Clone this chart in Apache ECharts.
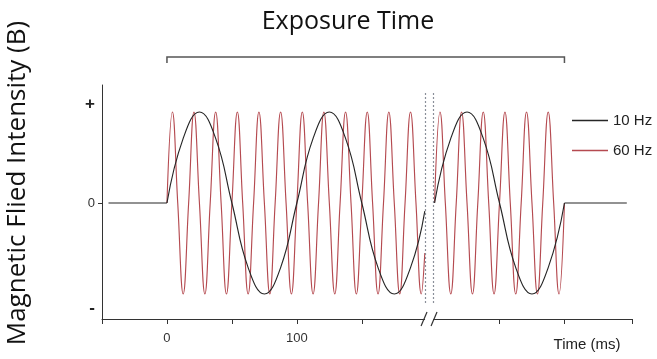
<!DOCTYPE html>
<html>
<head>
<meta charset="utf-8">
<script src="https://cdn.jsdelivr.net/npm/echarts@6/dist/echarts.min.js"></script>
<style>
html,body{margin:0;padding:0;background:#fff;}
#chart{width:657px;height:359px;}
</style>
</head>
<body>
<div id="chart"></div>
<script>
// ---- data ----
const seriesNames = ['10 Hz', '60 Hz'];

// 10 Hz: flat baseline before exposure
const hz10FlatBeforeT = [-45, 0];
const hz10FlatBeforeV = [0, 0];
// 10 Hz before the axis break
const hz10Seg1T = [0, 12.5, 25, 37.5, 50, 62.5, 75, 87.5, 100, 112.5, 125, 137.5, 150, 162.5, 175, 187.5, 198.5];
const hz10Seg1V = [0, 0.71, 1, 0.71, 0, -0.71, -1, -0.71, 0, 0.71, 1, 0.71, 0, -0.71, -1, -0.71, -0.09];
// 10 Hz after the axis break
const hz10Seg2T = [206, 218.5, 231, 243.5, 256, 268.5, 281, 293.5, 306];
const hz10Seg2V = [0, 0.71, 1, 0.71, 0, -0.71, -1, -0.71, 0];
// 10 Hz flat baseline after exposure
const hz10FlatAfterT = [306, 354];
const hz10FlatAfterV = [0, 0];

// 60 Hz before the axis break
const hz60Seg1T = [0, 4.2, 8.3, 12.5, 16.7, 20.8, 25, 29.2, 33.3, 37.5, 41.7, 45.8,
  50, 54.2, 58.3, 62.5, 66.7, 70.8, 75, 79.2, 83.3, 87.5, 91.7, 95.8,
  100, 104.2, 108.3, 112.5, 116.7, 120.8, 125, 129.2, 133.3, 137.5, 141.7, 145.8,
  150, 154.2, 158.3, 162.5, 166.7, 170.8, 175, 179.2, 183.3, 187.5, 191.7, 195.8, 198.5];
const hz60Seg1V = [0, 1, 0, -1, 0, 1, 0, -1, 0, 1, 0, -1,
  0, 1, 0, -1, 0, 1, 0, -1, 0, 1, 0, -1,
  0, 1, 0, -1, 0, 1, 0, -1, 0, 1, 0, -1,
  0, 1, 0, -1, 0, 1, 0, -1, 0, 1, 0, -1, -0.55];
// 60 Hz after the axis break
const hz60Seg2T = [206, 210.2, 214.3, 218.5, 222.7, 226.8, 231, 235.2, 239.3, 243.5, 247.7, 251.8,
  256, 260.2, 264.3, 268.5, 272.7, 276.8, 281, 285.2, 289.3, 293.5, 297.7, 301.8, 306];
const hz60Seg2V = [0, 1, 0, -1, 0, 1, 0, -1, 0, 1, 0, -1,
  0, 1, 0, -1, 0, 1, 0, -1, 0, 1, 0, -1, 0];

// axis ticks / labels
const xTickValues = [-50, 0, 50, 100, 150, 256, 306, 358];
const xLabelValues = [0, 100];
const yLabelValues = [1.08, 0, -1.16];
const yLabelTexts = ['+', '0', '-'];
const yTickValues = [0];
const breakLines = [198.5, 205];
const exposureRange = [0, 306];

// ---- chart ----
const zip = (t, v) => t.map((x, i) => [x, v[i]]);
const RED = '#b54a50';
const BLACK = '#262626';

function lineSeries(name, data, color, z) {
  return {
    name: name, type: 'line', data: data, showSymbol: false, symbol: 'none',
    smooth: 0.45, z: z, animation: false,
    lineStyle: { color: color, width: 1.15 }, itemStyle: { color: color }
  };
}

const chart = echarts.init(document.getElementById('chart'));
const redSeg1 = lineSeries(seriesNames[1], zip(hz60Seg1T, hz60Seg1V), RED, 2);
redSeg1.markLine = {
  silent: true, symbol: 'none', animation: false, label: { show: false },
  lineStyle: { color: '#8a8f99', type: [2, 2], width: 1.2 },
  data: breakLines.map(x => [{ coord: [x, 1.21] }, { coord: [x, -1.12] }])
};

const option = {
  animation: false,
  grid: { left: 102, right: 25, top: 85, bottom: 40 },
  legend: {
    data: [
      { name: seriesNames[0], icon: 'rect' },
      { name: seriesNames[1], icon: 'rect' }
    ],
    orient: 'vertical', left: 572, top: 112, padding: 0,
    itemWidth: 36, itemHeight: 1.5, itemGap: 13,
    textStyle: { fontFamily: 'Liberation Sans', fontSize: 15, lineHeight: 17, color: '#222', padding: [0, 0, 0, 0] }
  },
  xAxis: {
    type: 'value', min: -50, max: 358,
    splitLine: { show: false },
    axisLine: { onZero: false, lineStyle: { color: '#333', width: 1 } },
    axisTick: { customValues: xTickValues, length: 5, lineStyle: { color: '#333' } },
    axisLabel: {
      customValues: xLabelValues, margin: 13,
      fontFamily: 'Liberation Sans', fontSize: 13, color: '#333'
    }
  },
  yAxis: {
    type: 'value', min: -1.275, max: 1.297,
    splitLine: { show: false },
    axisLine: { show: true, onZero: false, lineStyle: { color: '#333', width: 1 } },
    axisTick: { show: true, customValues: yTickValues, length: 4, lineStyle: { color: '#333' } },
    axisLabel: {
      customValues: yLabelValues, margin: 7,
      formatter: function (v) {
        let idx = 0, best = 1e9;
        yLabelValues.forEach((y, i) => { if (Math.abs(y - v) < best) { best = Math.abs(y - v); idx = i; } });
        const t = yLabelTexts[idx];
        return t === '0' ? '{n|0}' : '{s|' + t + '}';
      },
      rich: {
        n: { fontFamily: 'Liberation Sans', fontSize: 13, color: '#333' },
        s: { fontFamily: 'Liberation Sans', fontSize: 17, fontWeight: 'bold', color: '#222' }
      }
    }
  },
  series: [
    redSeg1,
    lineSeries(seriesNames[1], zip(hz60Seg2T, hz60Seg2V), RED, 2),
    lineSeries(seriesNames[0], zip(hz10FlatBeforeT, hz10FlatBeforeV), BLACK, 3),
    lineSeries(seriesNames[0], zip(hz10Seg1T, hz10Seg1V), BLACK, 3),
    lineSeries(seriesNames[0], zip(hz10Seg2T, hz10Seg2V), BLACK, 3),
    lineSeries(seriesNames[0], zip(hz10FlatAfterT, hz10FlatAfterV), BLACK, 3)
  ]
};
chart.setOption(option);

// decorations placed through the axis scale
const px = v => chart.convertToPixel({ xAxisIndex: 0 }, v);
const py = v => chart.convertToPixel({ yAxisIndex: 0 }, v);
const x0 = px(exposureRange[0]);
const x1 = px(exposureRange[1]);
const xb = (px(breakLines[0]) + px(breakLines[1])) / 2;
const yAx = py(-1.275);

chart.setOption({
  graphic: [
    {
      type: 'text', x: 348, y: 22,
      style: { text: 'Exposure Time', fontFamily: 'Open Sans', fontSize: 25, fill: '#111', align: 'center', verticalAlign: 'middle' }
    },
    {
      type: 'text', x: 18, y: 183, rotation: Math.PI / 2,
      style: { text: 'Magnetic Flied Intensity (B)', fontFamily: 'Open Sans', fontSize: 26, fill: '#111', align: 'center', verticalAlign: 'middle' }
    },
    {
      type: 'text', x: 587, y: 345,
      style: { text: 'Time (ms)', fontFamily: 'Liberation Sans', fontSize: 15, fill: '#222', align: 'center', verticalAlign: 'middle' }
    },
    {
      type: 'polyline', z: 10,
      shape: { points: [[x0, 63], [x0, 57], [x1, 57], [x1, 63]] },
      style: { stroke: '#555', lineWidth: 1.5, fill: null }
    },
    {
      type: 'rect', z: 10,
      shape: { x: xb - 4, y: yAx - 3, width: 8, height: 6 },
      style: { fill: '#fff' }
    },
    {
      type: 'line', z: 11,
      shape: { x1: xb - 8, y1: yAx + 7, x2: xb - 2, y2: yAx - 7 },
      style: { stroke: '#333', lineWidth: 1.2 }
    },
    {
      type: 'line', z: 11,
      shape: { x1: xb + 2, y1: yAx + 7, x2: xb + 8, y2: yAx - 7 },
      style: { stroke: '#333', lineWidth: 1.2 }
    }
  ]
});
</script>
</body>
</html>
